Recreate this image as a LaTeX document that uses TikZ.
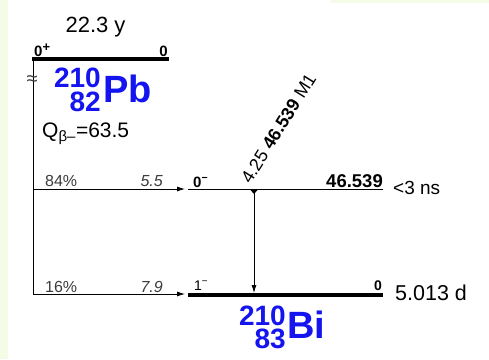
\documentclass[tikz,border=0pt]{standalone}
\usepackage{fontspec}
\setmainfont{Liberation Sans}
\usetikzlibrary{arrows.meta}
\definecolor{pale}{RGB}{244,252,232}
\definecolor{nucblue}{RGB}{20,20,240}
\definecolor{labgray}{RGB}{60,60,60}
\newcommand{\fs}[1]{\fontsize{#1}{#1}\selectfont}
\tikzset{
  lvl/.style={line width=1pt,black},
  gs/.style={line width=4pt,black},
  feed/.style={line width=0.8pt,black,-{Latex[length=8pt,width=5pt]}},
  gam/.style={line width=0.8pt,black,-{Latex[length=8pt,width=5pt]}},
  small/.style={inner sep=0pt,text=labgray,font=\fs{16}},
  txt/.style={inner sep=0pt,font=\fs{20}},
  nuc/.style={inner sep=0pt,text=nucblue,font=\bfseries\fs{38}},
  idx/.style={inner sep=0pt,text=nucblue,font=\bfseries\fs{28}},
}
\begin{document}
\begin{tikzpicture}[x=1pt,y=-1pt]
\useasboundingbox (0,0) rectangle (489,359);
\fill[white] (0,0) rectangle (489,359);
\fill[pale] (0,0) rectangle (8,359);
\fill[pale] (330,0) rectangle (489,3);
% coordinates
\coordinate (pbL) at (32,59);
\coordinate (pbR) at (169,59);
\coordinate (fA) at (33,189);
\coordinate (fB) at (33,294);
\coordinate (eA) at (185,189);
\coordinate (eB) at (185,294);
\coordinate (l1L) at (188,189);
\coordinate (l1R) at (383,189);
\coordinate (l0L) at (188,294.5);
\coordinate (l0R) at (383,294.5);
\coordinate (gT) at (254,189);
\coordinate (gB) at (254,293);
% Pb level
\draw[gs] (pbL) -- (pbR);
\node[txt,anchor=base,font=\fs{22}] (hlpb) at (95.5,32) {22.3 y};
\node[inner sep=0pt,anchor=base west,font=\bfseries\fs{15}] (jpb) at (34,56.5) {0\textsuperscript{\fs{13}+}};
\node[inner sep=0pt,anchor=base east,font=\bfseries\fs{15}] (epb) at (168,56.5) {0};
% vertical feeding line
\draw[line width=0.8pt] (33,61) -- (fB);
\node[inner sep=0pt,text=labgray,font=\fs{20}] (br) at (32,81) {≈};
\node[nuc,anchor=base west] (pb) at (103,102) {Pb};
\node[idx,anchor=base east] (pbA) at (101,87) {210};
\node[idx,anchor=base east] (pbZ) at (101,111) {82};
\node[txt,anchor=base west,font=\fs{21}] (q) at (42,137.5) {Q\textsubscript{\fs{15}β–}=63.5};
% feeding branches
\draw[feed] (fA) -- (eA);
\draw[feed] (fB) -- (eB);
\node[small,anchor=base west] (b1) at (45,186) {84\%};
\node[small,anchor=base east] (lf1) at (163,186) {\itshape 5.5};
\node[small,anchor=base west] (b2) at (45,292.5) {16\%};
\node[small,anchor=base east] (lf2) at (163,292.5) {\itshape 7.9};
% Bi levels
\draw[lvl] (l1L) -- (l1R);
\draw[gs] (l0L) -- (l0R);
\node[inner sep=0pt,anchor=base west,font=\bfseries\fs{15}] (j1) at (193,187) {0\textsuperscript{−}};
\node[inner sep=0pt,anchor=base east,font=\bfseries\fs{18.5}] (e1) at (383,187) {46.539};
\node[txt,anchor=base west,font=\fs{19}] (t1) at (393,194) {<3 ns};
\node[inner sep=0pt,anchor=base west,font=\fs{14}] (j0) at (194,290) {1\textsuperscript{−}};
\node[inner sep=0pt,anchor=base east,font=\bfseries\fs{14}] (e0) at (382,290) {0};
\node[txt,anchor=base west,font=\fs{21.5}] (t0) at (395,300) {5.013 d};
% gamma
\draw[gam] (gT) -- (gB);
\fill (250,189.5) -- (258,189.5) -- (254,194) -- cycle;
\node[inner sep=0pt,anchor=base west,rotate=58,font=\fs{18}] (gl) at (250.5,185) {4.25 \textbf{46.539} M1};
% Bi label
\node[nuc,anchor=base west] (bi) at (287,338) {Bi};
\node[idx,anchor=base east] (biA) at (286,325) {210};
\node[idx,anchor=base east] (biZ) at (286,348) {83};
\end{tikzpicture}
\end{document}
